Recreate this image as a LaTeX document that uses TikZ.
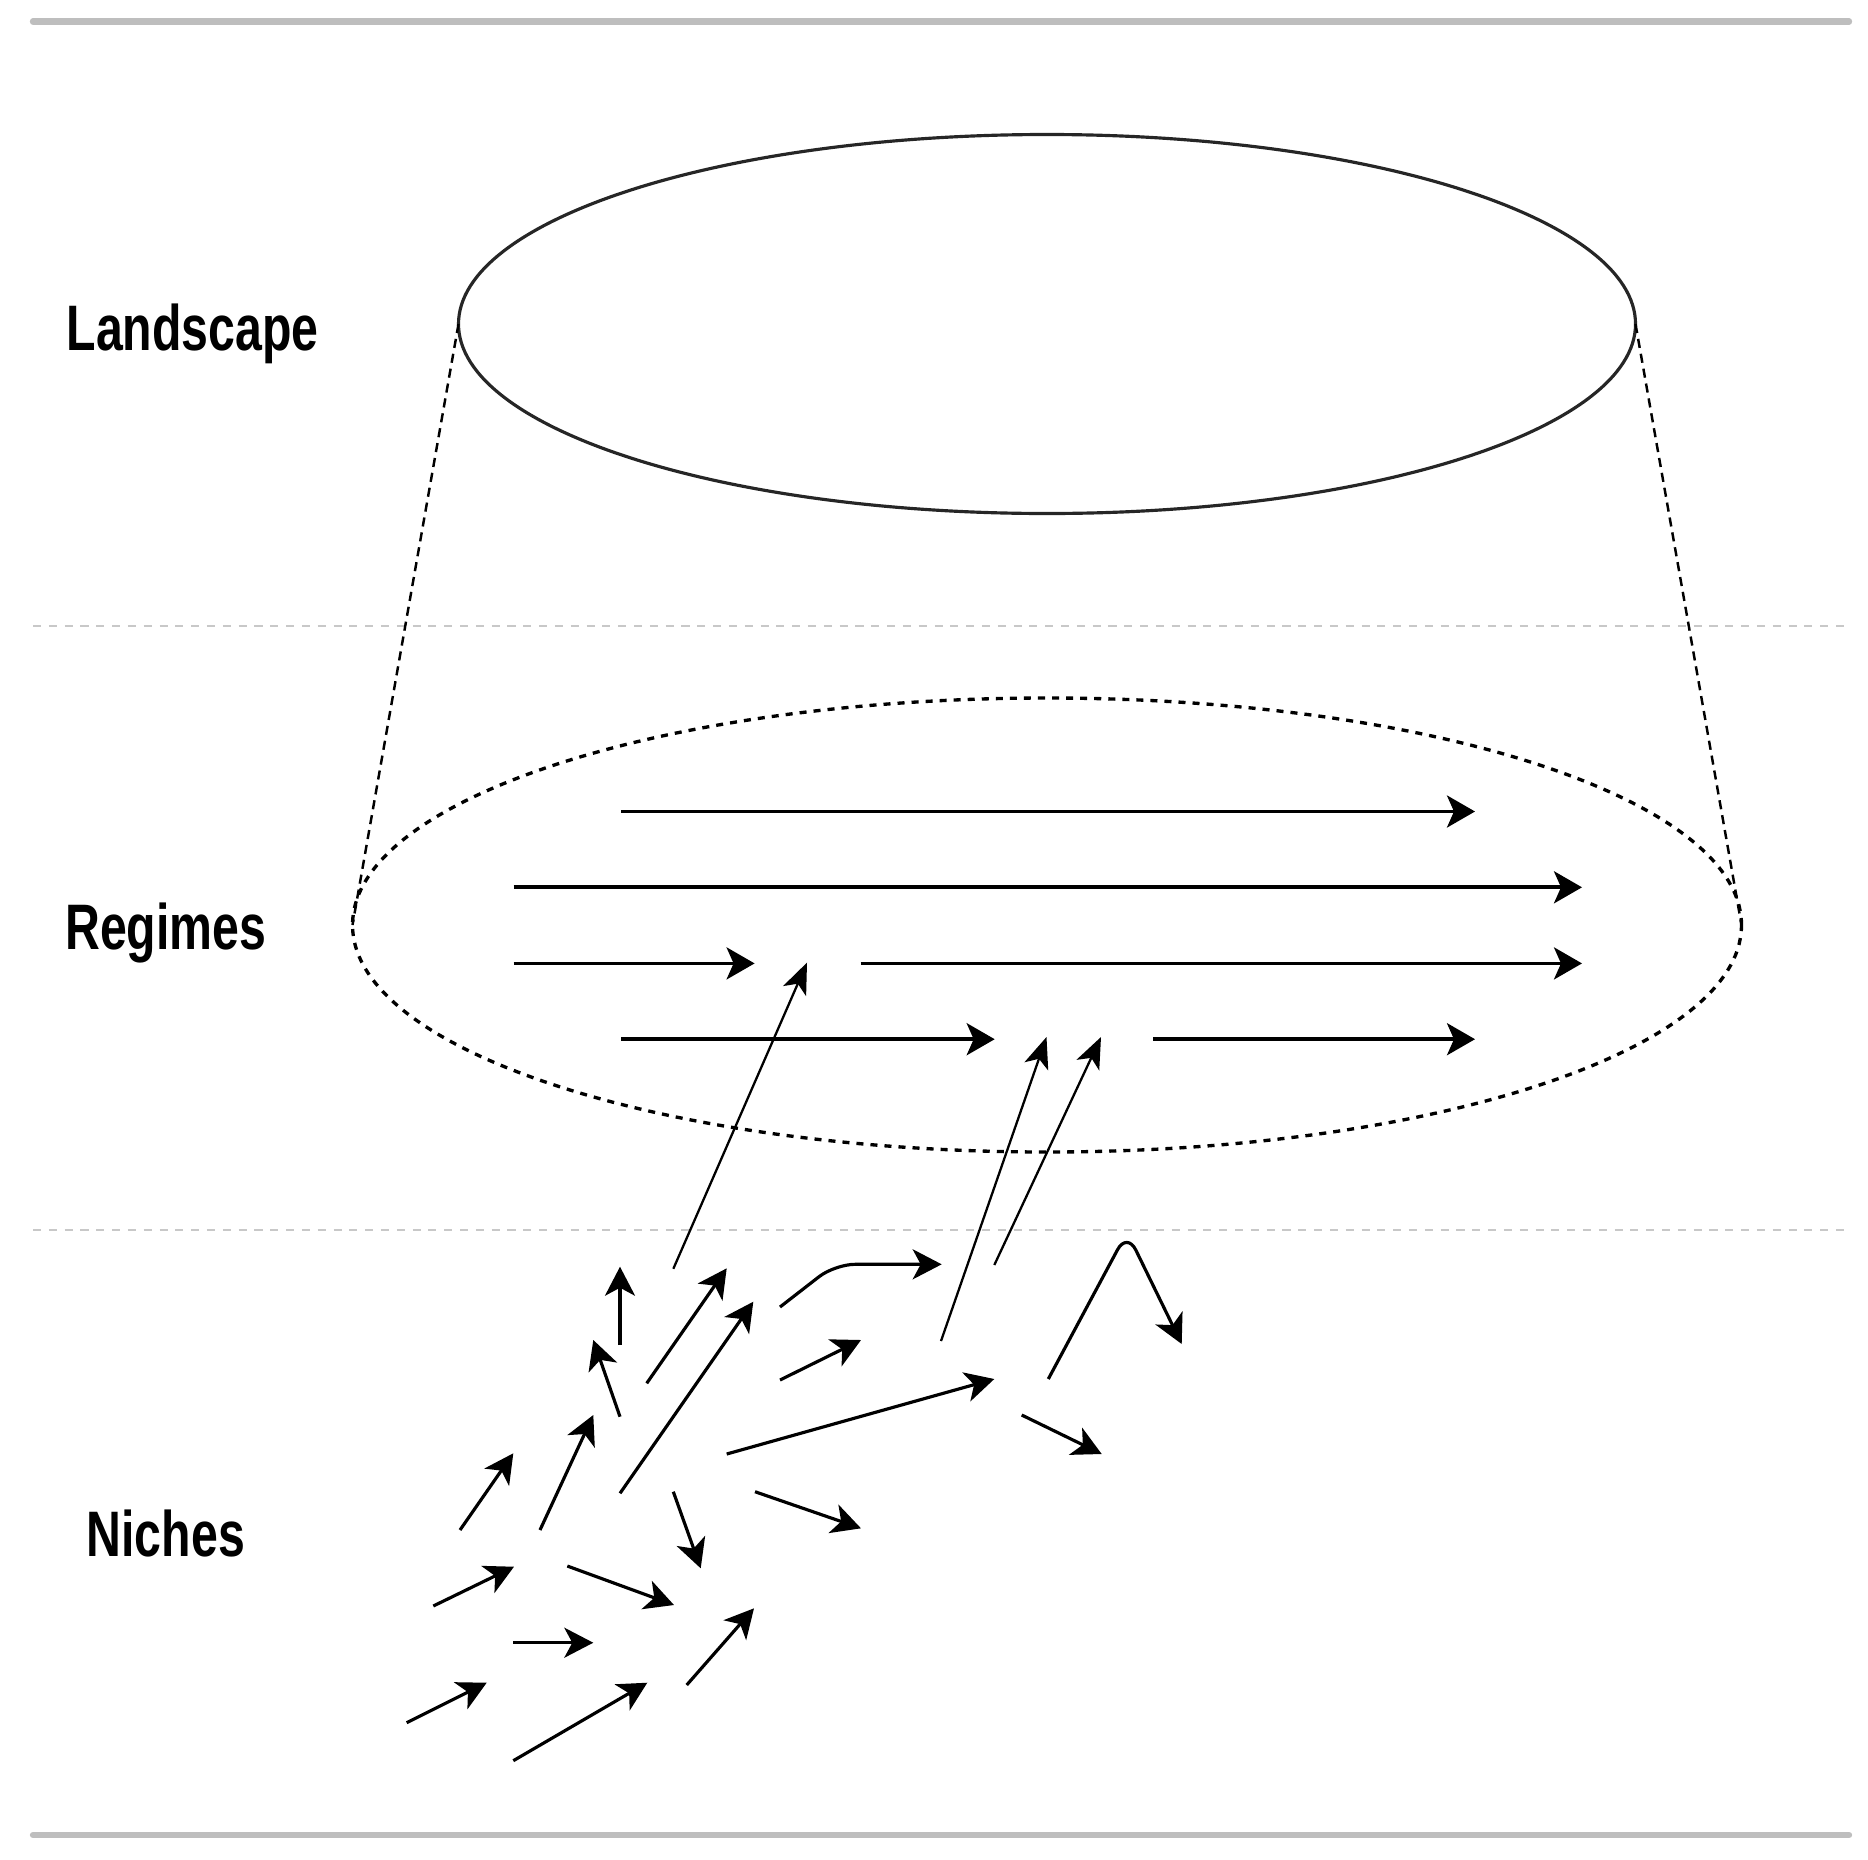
\documentclass[tikz,border=0pt]{standalone}
\usepackage{fontspec}
\setmainfont{Liberation Sans}
\usepackage{tikz}
\usetikzlibrary{shapes.geometric,arrows.meta}
\definecolor{RuleGrey}{RGB}{190,190,190}
\definecolor{SepGrey}{RGB}{200,200,200}

\begin{document}
\begin{tikzpicture}[
  y=-1cm,
  ruleline/.style={line width=1.8pt, RuleGrey, line cap=round},
  sepline/.style={line width=0.8pt, SepGrey, dash pattern=on 2.3pt off 2.2pt},
  landbox/.style={
    ellipse, draw=black!85, line width=0.9pt, inner sep=0pt, outer sep=0pt,
    minimum width=11.77cm, minimum height=3.79cm
  },
  regbox/.style={
    ellipse, draw=black, line width=0.95pt, inner sep=0pt, outer sep=0pt,
    dash pattern=on 2.0pt off 2.0pt, minimum width=13.89cm, minimum height=4.54cm
  },
  funnel/.style={line width=0.7pt, dash pattern=on 2.6pt off 1.7pt},
  regarr/.style={-{Stealth[length=0.28cm, width=0.32cm, inset=0.07cm]}, line width=1.05pt},
  nicharr/.style={-{Stealth[length=0.29cm, width=0.30cm, inset=0.08cm]}, line width=0.9pt},
  jumparr/.style={-{Stealth[length=0.31cm, width=0.25cm, inset=0.08cm]}, line width=0.65pt},
  lvllabel/.style={font=\fontsize{18.3}{22}\selectfont\bfseries, anchor=base west, inner sep=0pt}
]
\useasboundingbox (0,0) rectangle (18.68,18.59);

% --- Frame rules and level separators
\draw[ruleline] (0.33,0.215) -- (18.49,0.215);
\draw[ruleline] (0.33,18.35) -- (18.49,18.35);
\draw[sepline]  (0.33,6.26)  -- (18.49,6.26);
\draw[sepline]  (0.33,12.30) -- (18.49,12.30);

% --- Level labels
\node[lvllabel] (lland)  at (0.66,3.50)  {\scalebox{0.75}[1]{Landscape}};
\node[lvllabel] (lreg)   at (0.645,9.49) {\scalebox{0.75}[1]{Regimes}};
\node[lvllabel] (lniche) at (0.86,15.56) {\scalebox{0.75}[1]{Niches}};

% --- Landscape and regime ellipses
\node[landbox] (land) at (10.47,3.24) {};
\node[regbox]  (reg)  at (10.47,9.25) {};
\draw[funnel] (land.west) -- (reg.west);
\draw[funnel] (land.east) -- (reg.east);

% --- Regime trajectories
\draw[regarr] (6.21,8.115)  -- (14.75,8.115);
\draw[regarr] (5.135,8.873) -- (15.82,8.873);
\draw[regarr] (5.135,9.634) -- (7.546,9.634);
\draw[regarr] (8.607,9.634) -- (15.82,9.634);
\draw[regarr] (6.21,10.392) -- (9.947,10.392);
\draw[regarr] (11.53,10.392) -- (14.75,10.392);

% --- Niche breakthroughs into the regime
\draw[jumparr] (6.733,12.688) -- (8.07,9.626);
\draw[jumparr] (9.41,13.41)   -- (10.465,10.37);
\draw[jumparr] (9.943,12.65)  -- (11.01,10.37);

% --- Niche experiments
\draw[nicharr] (6.20,13.45)   -- (6.20,12.667);
\draw[nicharr] (6.20,14.167)  -- (5.933,13.40);
\draw[nicharr] (6.467,13.833) -- (7.267,12.683);
\draw[nicharr] (6.20,14.933)  -- (7.533,13.017);
\draw[nicharr, rounded corners=0.2cm] (7.80,13.07) -- (8.35,12.643) -- (9.417,12.643);
\draw[nicharr] (7.80,13.80)   -- (8.61,13.40);
\draw[nicharr] (7.267,14.54)  -- (9.943,13.79);
\draw[nicharr, rounded corners=0.2cm] (10.483,13.79) -- (11.27,12.32) -- (11.817,13.44);
\draw[nicharr] (10.217,14.15) -- (11.017,14.54);
\draw[nicharr] (7.55,14.917)  -- (8.61,15.283);
\draw[nicharr] (6.733,14.917) -- (7.007,15.683);
\draw[nicharr] (5.40,15.30)   -- (5.933,14.15);
\draw[nicharr] (4.60,15.30)   -- (5.133,14.533);
\draw[nicharr] (4.333,16.06)  -- (5.14,15.667);
\draw[nicharr] (5.673,15.66)  -- (6.74,16.05);
\draw[nicharr] (5.133,16.427) -- (5.933,16.427);
\draw[nicharr] (4.067,17.227) -- (4.867,16.827);
\draw[nicharr] (5.133,17.607) -- (6.473,16.827);
\draw[nicharr] (6.867,16.85)  -- (7.54,16.083);

\end{tikzpicture}
\end{document}
